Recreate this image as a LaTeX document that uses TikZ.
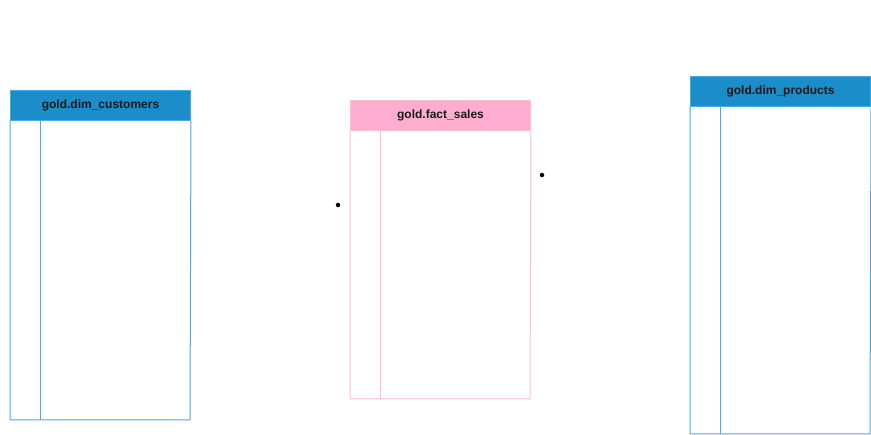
\documentclass[tikz,border=0pt]{standalone}
\usepackage{fontspec}
\setmainfont{Liberation Sans}
\definecolor{dimhead}{HTML}{1B8DC8}
\definecolor{dimline}{HTML}{45ACE6}
\definecolor{facthead}{HTML}{FFADCE}
\definecolor{factline}{HTML}{FFC0CB}
\definecolor{titletext}{HTML}{1A1A1A}
\tikzset{
  headbox/.style={draw=#1, line width=1pt, minimum width=180pt, minimum height=30pt, inner sep=0pt,
    font=\fontsize{12}{14}\selectfont\bfseries, text=titletext},
  bodyline/.style={draw=#1, line width=1pt},
  refdot/.style={circle, fill=black, minimum size=4.5pt, inner sep=0pt}
}
\begin{document}
\begin{tikzpicture}[x=1pt,y=-1pt]
\useasboundingbox[fill=white] (0,0) rectangle (871,435);
% dim_customers
\node[headbox=dimline, fill=dimhead, anchor=north west] (cust) at (10,90) {gold.dim\_customers};
\coordinate (custbl) at (10,420);
\coordinate (custbr) at (190,420);
\coordinate (custdiv) at (40,420);
\draw[bodyline=dimline] (cust.south west) -- (custbl) -- (custbr) -- (cust.south east);
\draw[bodyline=dimline] (cust.south west -| custdiv) -- (custdiv);
% fact_sales
\node[headbox=factline, fill=facthead, anchor=north west] (fact) at (350,100) {gold.fact\_sales};
\coordinate (factbl) at (350,399);
\coordinate (factbr) at (530,399);
\coordinate (factdiv) at (380,399);
\draw[bodyline=factline] (fact.south west) -- (factbl) -- (factbr) -- (fact.south east);
\draw[bodyline=factline] (fact.south west -| factdiv) -- (factdiv);
% dim_products
\node[headbox=dimline, fill=dimhead, anchor=north west] (prod) at (690,76) {gold.dim\_products};
\coordinate (prodbl) at (690,434);
\coordinate (prodbr) at (870,434);
\coordinate (proddiv) at (720,434);
\draw[bodyline=dimline] (prod.south west) -- (prodbl) -- (prodbr) -- (prod.south east);
\draw[bodyline=dimline] (prod.south west -| proddiv) -- (proddiv);
% dots
\node[refdot] (dotl) at (338,205) {};
\node[refdot] (dotr) at (542,175) {};
\end{tikzpicture}
\end{document}
